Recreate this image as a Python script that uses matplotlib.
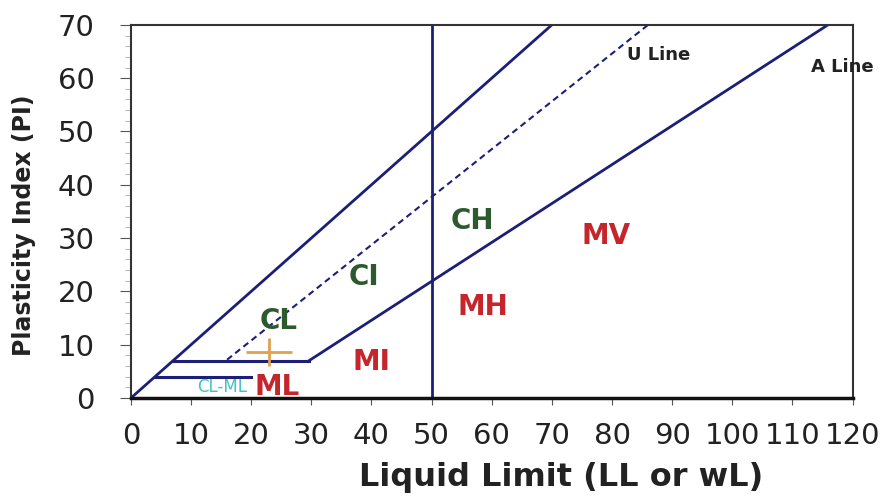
import matplotlib
matplotlib.use("Agg")
import matplotlib.pyplot as plt
from matplotlib.ticker import MultipleLocator

plt.rcParams['font.family'] = ['DejaVu Sans']

# Boundary lines (LL, PI)
upper_ll = [0, 70]
upper_pi = [0, 70]
u_ll = [16, 86]
u_pi = [7.2, 70]
a_ll = [29.6, 115.9]
a_pi = [7.0, 70]
h7_ll = [7, 29.6]
h7_pi = [7, 7]
h4_ll = [4, 20]
h4_pi = [4, 4]
v50_ll = [50, 50]
v50_pi = [0, 70]

# Sample point with spread
pt_ll = 23
pt_pi = 8.6
pt_xerr = 3.8
pt_yerr = 2.6

# Zone labels
labels = ["CL", "CI", "CH", "MV", "MH", "MI", "ML"]
label_ll = [24.5, 38.7, 56.8, 79.0, 58.5, 40, 24.4]
label_pi = [14.5, 22.7, 33.2, 30.4, 17, 6.8, 2.0]
label_kind = ["c", "c", "c", "m", "m", "m", "m"]

xticks = list(range(0, 121, 10))
yticks = list(range(0, 71, 10))

navy = '#1c1f78'
green = '#2d5a2d'
red = '#c4262b'

fig = plt.figure(figsize=(8.9, 4.97), dpi=100)
ax = fig.add_axes([0.147, 0.199, 0.811, 0.751])

ax.plot(upper_ll, upper_pi, color=navy, lw=2)
ax.plot(u_ll, u_pi, color=navy, lw=1.5, ls=(0, (3, 2)))
ax.plot(a_ll, a_pi, color=navy, lw=2)
ax.plot(h7_ll, h7_pi, color=navy, lw=2.2)
ax.plot(h4_ll, h4_pi, color=navy, lw=2.2)
ax.plot(v50_ll, v50_pi, color=navy, lw=2)

ax.errorbar([pt_ll], [pt_pi], xerr=[pt_xerr], yerr=[pt_yerr], fmt='none',
            ecolor='#e0a050', elinewidth=2)

for t, x, y, k in zip(labels, label_ll, label_pi, label_kind):
    ax.text(x, y, t, color=green if k == "c" else red, fontsize=20,
            fontweight='bold', ha='center', va='center')

ax.text(15.1, 2.0, "CL-ML", color='#40c0c8', fontsize=12, ha='center', va='center')
ax.text(87.7, 64.4, "U Line", color='#222222', fontsize=13, fontweight='bold',
        ha='center', va='center')
ax.text(118.3, 62.1, "A Line", color='#222222', fontsize=13, fontweight='bold',
        ha='center', va='center', clip_on=False)

ax.set_xlim(0, 120)
ax.set_ylim(0, 70)
ax.set_xticks(xticks)
ax.set_yticks(yticks)
ax.yaxis.set_minor_locator(MultipleLocator(2))
ax.tick_params(axis='both', which='major', labelsize=21, direction='out',
               color='#555555', labelcolor='#222222')
ax.tick_params(axis='x', which='major', length=5, pad=12)
ax.tick_params(axis='y', which='major', length=8, pad=18)
ax.tick_params(axis='y', which='minor', length=4, color='#aaaaaa')
ax.set_xlabel("Liquid Limit (LL or wL)", fontsize=23, fontweight='bold',
              color='#222222')
ax.xaxis.set_label_coords(0.596, -0.172)
ax.set_ylabel("Plasticity Index (PI)", fontsize=17, fontweight='bold',
              color='#222222')
ax.yaxis.set_label_coords(-0.1316, 0.464)

for s in ['left', 'right', 'top']:
    ax.spines[s].set_color('#333333')
    ax.spines[s].set_linewidth(1.5)
ax.spines['bottom'].set_color('#111111')
ax.spines['bottom'].set_linewidth(2.5)

fig.savefig("out.png", dpi=100)
